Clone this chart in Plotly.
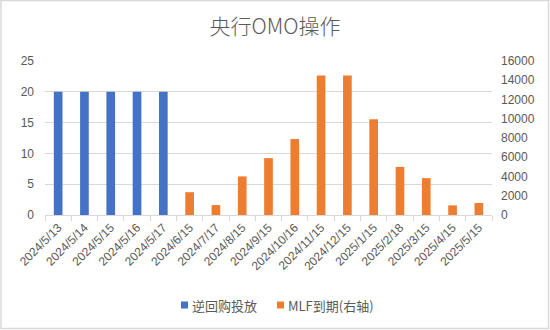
import plotly.graph_objects as go

# Operation dates (category axis)
dates = [
    "2024/5/13", "2024/5/14", "2024/5/15", "2024/5/16", "2024/5/17",
    "2024/6/15", "2024/7/17", "2024/8/15", "2024/9/15", "2024/10/16",
    "2024/11/15", "2024/12/15", "2025/1/15", "2025/2/18", "2025/3/15",
    "2025/4/15", "2025/5/15",
]

# Reverse repo injections (left axis)
reverse_repo = [20, 20, 20, 20, 20] + [None] * 12

# MLF maturities (right axis)
mlf_maturity = [None] * 5 + [
    2370, 1030, 4010, 5910, 7890, 14500, 14500, 9950, 5000, 3830, 1000, 1250,
]

left_ticks = [0, 5, 10, 15, 20, 25]
right_ticks = [0, 2000, 4000, 6000, 8000, 10000, 12000, 14000, 16000]

series_names = ["逆回购投放", "MLF到期(右轴)"]
series_colors = ["#4472C4", "#ED7D31"]

W, H = 550, 330
L, R, T, B = 45, 58, 61, 115
PW, PH = W - L - R, H - T - B

TEXT = "#595959"
GRID = "#d9d9d9"
CJK = "Noto Sans CJK SC"
NUM = "Liberation Sans, " + CJK

fig = go.Figure()
fig.add_trace(go.Bar(
    x=dates, y=reverse_repo, name=series_names[0],
    marker=dict(color=series_colors[0], line=dict(width=0)),
    width=0.33, yaxis="y",
))
fig.add_trace(go.Bar(
    x=dates, y=mlf_maturity, name=series_names[1],
    marker=dict(color=series_colors[1], line=dict(width=0)),
    width=0.33, yaxis="y2",
))


def px_x(p):
    return (p - L) / PW


def px_y(p):
    return (H - B - p) / PH


# Compact legend: small colour key followed by its label
legend_keys = [181, 277]
shapes = [dict(
    type="rect", xref="paper", yref="paper",
    x0=px_x(1), x1=px_x(548.5), y0=px_y(328.5), y1=px_y(0.5),
    line=dict(color=GRID, width=1.5), fillcolor="rgba(0,0,0,0)",
    layer="below",
)]
annotations = []
for kx, name, color in zip(legend_keys, series_names, series_colors):
    shapes.append(dict(
        type="rect", xref="paper", yref="paper",
        x0=px_x(kx), x1=px_x(kx + 7), y0=px_y(308.5), y1=px_y(301.5),
        line=dict(width=0), fillcolor=color,
    ))
    annotations.append(dict(
        xref="paper", yref="paper", x=px_x(kx + 9), y=px_y(305),
        xanchor="left", yanchor="middle", showarrow=False,
        text=name, font=dict(family=CJK, size=13, color=TEXT),
    ))

fig.update_layout(
    width=W, height=H,
    margin=dict(l=L, r=R, t=T, b=B, pad=0),
    paper_bgcolor="white", plot_bgcolor="white",
    barmode="overlay",
    showlegend=False,
    title=dict(
        text="央行OMO操作", x=0.5, xanchor="center",
        y=1 - 27 / H, yanchor="middle",
        font=dict(family=CJK, size=21, color=TEXT, weight=300),
    ),
    xaxis=dict(
        type="category", tickangle=-45, tickson="boundaries",
        ticks="outside", ticklen=5, tickcolor=GRID,
        showline=True, linecolor=GRID, linewidth=1,
        showgrid=False, automargin=False,
        tickfont=dict(family=NUM, size=12, color=TEXT),
    ),
    yaxis=dict(
        range=[0, 25], tickvals=left_ticks,
        showgrid=True, gridcolor=GRID, gridwidth=1,
        zeroline=False, showline=False, ticks="",
        ticklabelstandoff=10, automargin=False,
        tickfont=dict(family=NUM, size=12, color=TEXT),
    ),
    yaxis2=dict(
        range=[0, 16000], tickvals=right_ticks,
        ticktext=[str(v) for v in right_ticks],
        overlaying="y", side="right",
        showgrid=False, zeroline=False, showline=False, ticks="",
        ticklabelstandoff=8, automargin=False,
        tickfont=dict(family=NUM, size=12, color=TEXT),
    ),
    shapes=shapes,
    annotations=annotations,
)

fig.write_html("out.html")
